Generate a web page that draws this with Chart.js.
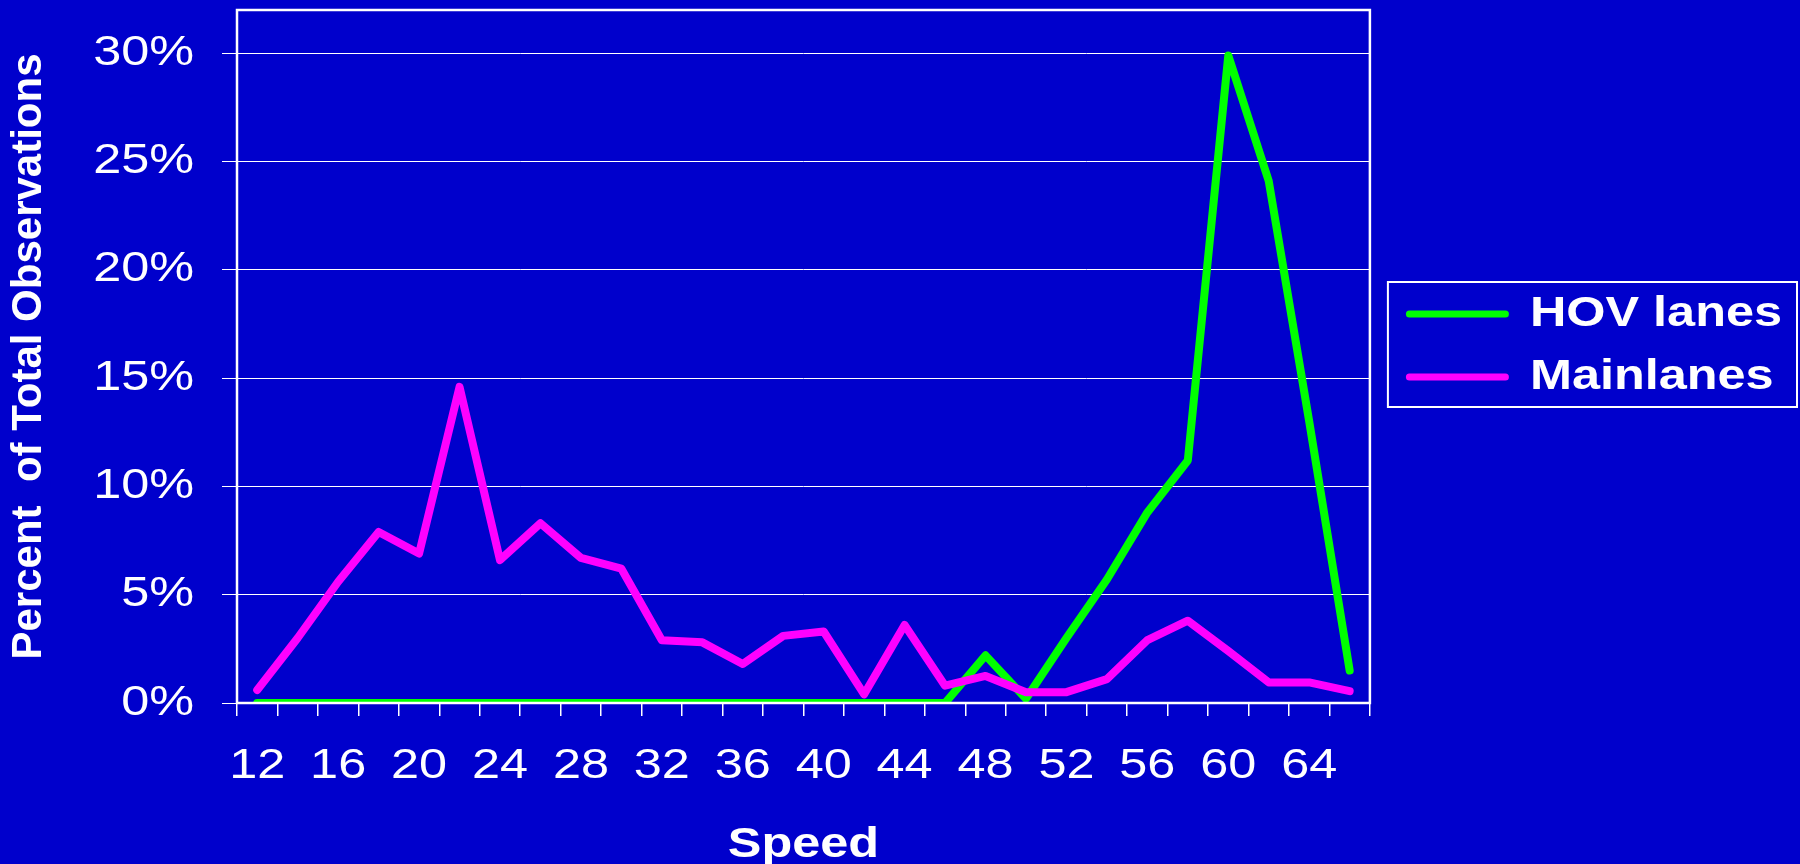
<!DOCTYPE html>
<html>
<head>
<meta charset="utf-8">
<title>Speed distribution: HOV lanes vs mainlanes</title>
<script src="https://cdn.jsdelivr.net/npm/chart.js@4.4.1/dist/chart.umd.min.js"></script>
<style>
  html, body { margin: 0; padding: 0; background: #0000CC; }
  canvas { display: block; }
</style>
</head>
<body>
<canvas id="speedChart" width="1800" height="864" style="width:1800px;height:864px"></canvas>
<script>
// Speed bins (mph), one category every 2 mph
const speeds = [12, 14, 16, 18, 20, 22, 24, 26, 28, 30, 32, 34, 36, 38,
                40, 42, 44, 46, 48, 50, 52, 54, 56, 58, 60, 62, 64, 66];

// Share of all observations in each speed bin (%)
const hovLanes = [0, 0, 0, 0, 0, 0, 0, 0, 0, 0, 0, 0, 0, 0,
                  0, 0, 0, 0, 2.2, 0.2, 3.0, 5.7, 8.8, 11.2, 29.9, 24.1, 13.0, 1.5];
const mainLanes = [0.6, 3.0, 5.6, 7.9, 6.9, 14.6, 6.6, 8.3, 6.7, 6.2, 2.9, 2.8, 1.8, 3.1,
                   3.3, 0.4, 3.6, 0.8, 1.25, 0.5, 0.5, 1.1, 2.9, 3.8, 2.4, 0.95, 0.95, 0.55];

const seriesNames = ['HOV lanes', 'Mainlanes'];
const axisTitles = { x: 'Speed', y: 'Percent  of Total Observations' };
const yMax = 32;
const yStep = 5;

const FONT = "'Liberation Sans', Arial, sans-serif";
const WHITE = '#FFFFFF';

const canvas = document.getElementById('speedChart');
const ctx = canvas.getContext('2d');

// Horizontal text is set slightly wide; rotated text keeps its natural proportions.
const TEXT_STRETCH = 1.2;
const nativeFillText = ctx.fillText;
const nativeMeasureText = ctx.measureText;
ctx.fillText = function (text, x, y) {
  const m = this.getTransform();
  if (Math.abs(m.b) > 1e-6 || Math.abs(m.c) > 1e-6) {
    nativeFillText.call(this, text, x, y);
    return;
  }
  this.save();
  this.translate(x, y);
  this.scale(TEXT_STRETCH, 1);
  nativeFillText.call(this, text, 0, 0);
  this.restore();
};
ctx.measureText = function (text) {
  const m = nativeMeasureText.call(this, text);
  return {
    width: m.width * TEXT_STRETCH,
    actualBoundingBoxLeft: m.actualBoundingBoxLeft * TEXT_STRETCH,
    actualBoundingBoxRight: m.actualBoundingBoxRight * TEXT_STRETCH,
    actualBoundingBoxAscent: m.actualBoundingBoxAscent,
    actualBoundingBoxDescent: m.actualBoundingBoxDescent,
    fontBoundingBoxAscent: m.fontBoundingBoxAscent,
    fontBoundingBoxDescent: m.fontBoundingBoxDescent
  };
};

// Plot-area frame and the boxed legend
const frames = {
  id: 'frames',
  afterLayout(chart) {
    const lg = chart.legend;
    lg.left += 15; lg.right += 15;
    lg.top -= 11; lg.bottom -= 11;
  },
  afterDatasetsDraw(chart) {
    const { ctx: c, chartArea: a } = chart;
    c.save();
    c.strokeStyle = WHITE;
    c.lineWidth = 2.5;
    c.strokeRect(a.left, a.top, a.right - a.left, a.bottom - a.top);
    c.restore();
  },
  afterDraw(chart) {
    const boxes = chart.legend && chart.legend.legendHitBoxes;
    if (!boxes || !boxes.length) return;
    const first = boxes[0], last = boxes[boxes.length - 1];
    const l = first.left - 18;
    const t = first.top - 11;
    const r = Math.max(...boxes.map(b => b.left + b.width)) + 15;
    const btm = last.top + last.height + 9;
    const c = chart.ctx;
    c.save();
    c.strokeStyle = WHITE;
    c.lineWidth = 2;
    c.strokeRect(l, t, r - l, btm - t);
    c.restore();
  }
};

const lineStyle = {
  borderWidth: 8,
  borderCapStyle: 'round',
  borderJoinStyle: 'round',
  pointRadius: 0,
  pointHoverRadius: 0,
  tension: 0,
  fill: false,
  clip: 0
};

new Chart(ctx, {
  type: 'line',
  data: {
    labels: speeds,
    datasets: [
      Object.assign({ label: seriesNames[0], data: hovLanes, borderColor: '#00FF00', backgroundColor: '#00FF00', order: 1 }, lineStyle),
      Object.assign({ label: seriesNames[1], data: mainLanes, borderColor: '#FF00FF', backgroundColor: '#FF00FF', order: 0 }, lineStyle)
    ]
  },
  options: {
    responsive: false,
    devicePixelRatio: 1,
    animation: false,
    layout: { padding: { top: 10, right: 23, bottom: 0, left: 0 } },
    plugins: {
      tooltip: { enabled: false },
      legend: {
        position: 'right',
        fullSize: false,
        align: 'center',
        labels: {
          color: WHITE,
          font: { family: FONT, size: 42, weight: 'bold' },
          boxWidth: 103,
          boxHeight: 7,
          padding: 21,
          useBorderRadius: true,
          borderRadius: 3.5,
          generateLabels(chart) {
            return chart.data.datasets.map((ds, i) => ({
              text: ds.label,
              fillStyle: ds.borderColor,
              strokeStyle: ds.borderColor,
              lineWidth: 0,
              borderRadius: 3.5,
              fontColor: WHITE,
              hidden: false,
              datasetIndex: i
            }));
          }
        }
      }
    },
    scales: {
      x: {
        type: 'category',
        offset: true,
        grid: {
          offset: true,
          drawOnChartArea: false,
          drawTicks: true,
          tickLength: 13,
          color: WHITE,
          lineWidth: 1.5
        },
        border: { display: false },
        ticks: {
          autoSkip: false,
          maxRotation: 0,
          minRotation: 0,
          padding: 25,
          color: WHITE,
          font: { family: FONT, size: 42 },
          callback(value, index) {
            return index % 2 === 0 ? String(speeds[index]) : '';
          }
        },
        title: {
          display: true,
          text: axisTitles.x,
          color: WHITE,
          font: { family: FONT, size: 42, weight: 'bold', lineHeight: 0.88 },
          padding: { top: 0, bottom: 0 }
        },
        afterFit(scale) { scale.height = 161; }
      },
      y: {
        min: 0,
        max: yMax,
        grid: {
          color: WHITE,
          lineWidth: 1,
          drawTicks: true,
          tickLength: 15
        },
        border: { display: false },
        ticks: {
          stepSize: yStep,
          includeBounds: false,
          padding: 28,
          color: WHITE,
          font: { family: FONT, size: 42 },
          callback: v => v + '%'
        },
        title: {
          display: true,
          text: axisTitles.y,
          color: WHITE,
          font: { family: FONT, size: 42, weight: 'bold', lineHeight: 1.1 },
          padding: { top: 6, bottom: 0 }
        },
        afterFit(scale) {
          scale.width = 237;
          scale.paddingTop = 0;
          scale.paddingBottom = 0;
        }
      }
    }
  },
  plugins: [frames]
});
</script>
</body>
</html>
